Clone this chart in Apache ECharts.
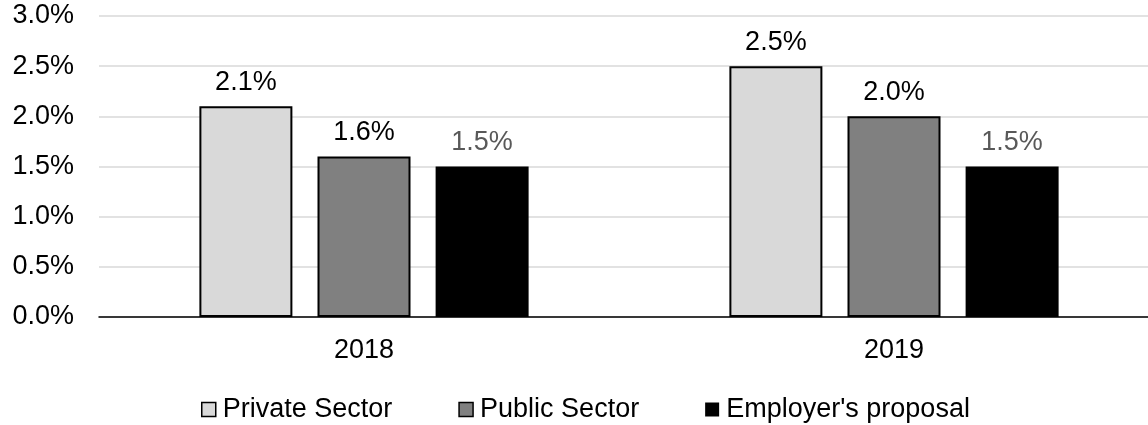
<!DOCTYPE html>
<html>
<head>
<meta charset="utf-8">
<script src="https://cdn.jsdelivr.net/npm/echarts@6/dist/echarts.min.js"></script>
<style>
html,body{margin:0;padding:0;background:#fff;overflow:hidden;}
#chart{width:1160px;height:425px;}
</style>
</head>
<body>
<div id="chart"></div>
<script>
const categories = ['2018', '2019'];
const privateSector = [2.1, 2.5];
const publicSector = [1.6, 2.0];
const employerProposal = [1.5, 1.5];
const seriesNames = ['Private Sector', 'Public Sector', "Employer's proposal"];

const FONT = '"Liberation Sans", Arial, sans-serif';
const FS = 27;
const chart = echarts.init(document.getElementById('chart'), null, {renderer: 'canvas'});

function pct(v) { return v.toFixed(1) + '%'; }

function barSeries(name, data, fill, border, labelColor) {
  return {
    name: name,
    type: 'bar',
    data: data,
    barWidth: 93,
    barGap: '27%',
    itemStyle: {color: fill, borderColor: border, borderWidth: border ? 2 : 0},
    label: {
      show: true,
      position: 'top',
      distance: 10,
      formatter: p => pct(p.value),
      color: labelColor,
      fontFamily: FONT,
      fontSize: FS
    }
  };
}

chart.setOption({
  animation: false,
  backgroundColor: '#fff',
  grid: {left: 99, right: 1, top: 16, bottom: 108, containLabel: false},
  legend: {
    data: seriesNames,
    left: 196,
    top: 391,
    itemWidth: 14,
    itemHeight: 14,
    itemGap: 66,
    icon: 'rect',
    itemStyle: {borderWidth: 1.5},
    textStyle: {fontFamily: FONT, fontSize: FS, color: '#000', padding: [0, 0, 0, 2]}
  },
  xAxis: {
    type: 'category',
    data: categories,
    axisLine: {lineStyle: {color: '#000', width: 1.5}},
    axisTick: {show: false},
    axisLabel: {fontFamily: FONT, fontSize: FS, color: '#000', margin: 20}
  },
  yAxis: {
    type: 'value',
    min: 0,
    max: 3,
    interval: 0.5,
    axisLine: {show: false},
    axisTick: {show: false},
    axisLabel: {fontFamily: FONT, fontSize: FS, color: '#000', margin: 25, formatter: v => pct(v)},
    splitLine: {lineStyle: {color: '#d9d9d9', width: 1.5}}
  },
  series: [
    barSeries(seriesNames[0], privateSector, '#d9d9d9', '#000', '#000'),
    barSeries(seriesNames[1], publicSector, '#808080', '#000', '#000'),
    barSeries(seriesNames[2], employerProposal, '#000', null, '#595959')
  ]
});
</script>
</body>
</html>
